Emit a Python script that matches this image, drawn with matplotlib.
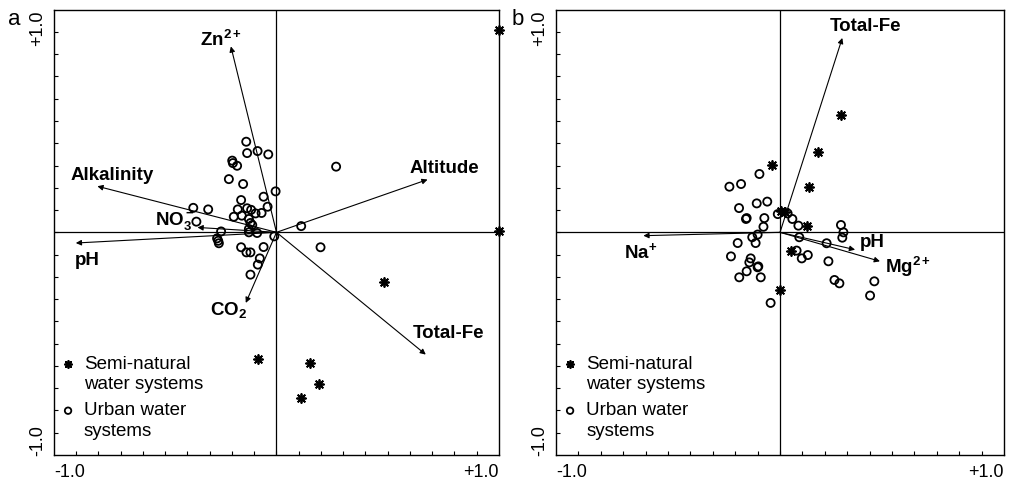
import numpy as np
import matplotlib
matplotlib.use("Agg")
import matplotlib.pyplot as plt
from matplotlib.legend_handler import HandlerPathCollection

plt.rcParams["font.family"] = ["Liberation Sans", "DejaVu Sans"]
plt.rcParams["mathtext.fontset"] = "custom"
plt.rcParams["mathtext.rm"] = "Liberation Sans"
plt.rcParams["mathtext.bf"] = "Liberation Sans:bold"
plt.rcParams["mathtext.it"] = "Liberation Sans:italic"

# ---- panel a: environmental vectors ----
a_vars = [r"$\mathbf{Zn^{2+}}$", "Alkalinity", r"$\mathbf{NO_3^-}$", "pH",
          r"$\mathbf{CO_2}$", "Altitude", "Total-Fe"]
a_vx = [-0.205, -0.805, -0.355, -0.902, -0.138, 0.679, 0.671]
a_vy = [0.835, 0.207, 0.022, -0.048, -0.317, 0.237, -0.549]

# semi-natural sites (a)
a_semi_x = [0.998, 1.0, 0.484, -0.085, 0.150, 0.192, 0.112]
a_semi_y = [0.907, 0.007, -0.225, -0.567, -0.587, -0.680, -0.744]

# urban sites (a)
a_urb_x = [-0.136, -0.132, -0.085, -0.037, -0.199, -0.196, -0.177, -0.214,
           -0.150, 0.268, -0.004, -0.058, -0.159, -0.040, -0.374, -0.307,
           -0.174, -0.132, -0.114, -0.094, -0.067, -0.192, -0.156, -0.124,
           -0.117, -0.109, -0.124, -0.360, -0.124, -0.087, -0.249, 0.111,
           -0.010, -0.267, -0.262, -0.259, -0.159, -0.135, -0.117, -0.058,
           0.198, -0.075, -0.084, -0.117]
a_urb_y = [0.407, 0.356, 0.365, 0.350, 0.322, 0.311, 0.299, 0.239,
           0.217, 0.295, 0.184, 0.160, 0.145, 0.115, 0.110, 0.103,
           0.103, 0.108, 0.101, 0.085, 0.087, 0.070, 0.075, 0.060,
           0.042, 0.033, 0.015, 0.048, 0.000, -0.003, 0.004, 0.028,
           -0.018, -0.027, -0.038, -0.049, -0.067, -0.090, -0.090, -0.066,
           -0.067, -0.117, -0.145, -0.190]

# ---- panel b ----
b_vars = ["Total-Fe", r"$\mathbf{Na^{+}}$", "pH", r"$\mathbf{Mg^{2+}}$"]
b_vx = [0.278, -0.610, 0.335, 0.446]
b_vy = [0.873, -0.015, -0.078, -0.130]

b_semi_x = [0.272, 0.171, -0.037, 0.131, 0.004, 0.022, 0.122, 0.049, 0.000]
b_semi_y = [0.528, 0.362, 0.304, 0.202, 0.097, 0.090, 0.030, -0.082, -0.259]

b_urb_x = [-0.092, -0.226, -0.174, -0.057, -0.104, -0.183, -0.149, -0.152,
           -0.070, -0.074, -0.010, 0.034, 0.055, 0.082, 0.272, 0.283,
           0.278, 0.086, -0.100, -0.124, -0.109, -0.189, 0.208, 0.074,
           0.124, 0.097, -0.219, -0.131, -0.137, -0.097, -0.100, 0.216,
           -0.149, -0.182, -0.086, 0.243, 0.265, 0.421, 0.402, -0.042]
b_urb_y = [0.262, 0.205, 0.217, 0.138, 0.130, 0.109, 0.064, 0.060,
           0.064, 0.025, 0.082, 0.085, 0.060, 0.030, 0.033, 0.000,
           -0.024, -0.022, -0.010, -0.022, -0.048, -0.048, -0.049, -0.082,
           -0.102, -0.117, -0.108, -0.117, -0.135, -0.153, -0.157, -0.130,
           -0.175, -0.202, -0.202, -0.214, -0.229, -0.220, -0.284, -0.317]

# label placement: (x, y, ha)
a_lab = [(-0.25, 0.868, "center"), (-0.925, 0.259, "left"), (-0.37, 0.057, "right"),
         (-0.906, -0.123, "left"), (-0.217, -0.345, "center"), (0.596, 0.289, "left"),
         (0.614, -0.452, "left")]
b_lab = [(0.223, 0.927, "left"), (-0.695, -0.085, "left"), (0.357, -0.043, "left"),
         (0.469, -0.150, "left")]

star = (8, 2, 0)
# legend symbol sits beside the first line of its two-line label
first_line = HandlerPathCollection(yoffsets=[1.2])


def draw_panel(ax, vx, vy, names, labpos, sx, sy, ux, uy):
    ax.set_xlim(-1, 1)
    ax.set_ylim(-1, 1)
    ax.axhline(0, color="black", lw=0.9, zorder=1)
    ax.axvline(0, color="black", lw=0.9, zorder=1)

    for x, y in zip(vx, vy):
        ax.annotate("", xy=(x, y), xytext=(0, 0),
                    arrowprops=dict(arrowstyle="-|>", lw=0.8, color="black",
                                    mutation_scale=8, shrinkA=0, shrinkB=0),
                    zorder=2)
    for name, (lx, ly, ha) in zip(names, labpos):
        ax.text(lx, ly, name, ha=ha, va="center", fontsize=13.5,
                fontweight="bold", zorder=4)

    semi = ax.scatter(sx, sy, marker=star, s=42, color="black",
                      linewidths=1.3, zorder=3, clip_on=False,
                      label="Semi-natural\nwater systems")
    urb = ax.scatter(ux, uy, marker="o", s=34, facecolors="none",
                     edgecolors="black", linewidths=1.3, zorder=3,
                     label="Urban water\nsystems")

    leg = ax.legend(handles=[semi, urb], loc="lower left",
                    bbox_to_anchor=(0.0, 0.02), frameon=False, fontsize=13.5,
                    handlelength=0.7, handletextpad=0.5, labelspacing=0.5,
                    borderaxespad=0.0, markerscale=0.8,
                    handler_map={semi: first_line, urb: first_line})
    for t in leg.get_texts():
        t.set_linespacing(1.25)

    ticks = np.round(np.arange(-0.9, 0.95, 0.1), 1)
    ax.set_xticks(ticks)
    ax.set_yticks(ticks)
    ax.tick_params(direction="in", length=3, width=0.8,
                   labelbottom=False, labelleft=False)
    for s in ax.spines.values():
        s.set_linewidth(1.0)

    ax.text(0, -0.018, "-1.0", transform=ax.transAxes, ha="left", va="top", fontsize=13)
    ax.text(1, -0.018, "+1.0", transform=ax.transAxes, ha="right", va="top", fontsize=13)
    ax.text(-0.018, 1, "+1.0", transform=ax.transAxes, ha="right", va="top",
            rotation=90, fontsize=13)
    ax.text(-0.018, 0, "-1.0", transform=ax.transAxes, ha="right", va="bottom",
            rotation=90, fontsize=13)


fig = plt.figure(figsize=(10.15, 4.81), dpi=100)
ax_a = fig.add_axes([0.0532, 0.052, 0.4384, 0.9258])
ax_b = fig.add_axes([0.5478, 0.052, 0.4414, 0.9258])

draw_panel(ax_a, a_vx, a_vy, a_vars, a_lab, a_semi_x, a_semi_y, a_urb_x, a_urb_y)
draw_panel(ax_b, b_vx, b_vy, b_vars, b_lab, b_semi_x, b_semi_y, b_urb_x, b_urb_y)

fig.text(0.008, 0.948, "a", fontsize=16, ha="left", va="baseline")
fig.text(0.504, 0.948, "b", fontsize=16, ha="left", va="baseline")

fig.savefig("out.png", dpi=100)
